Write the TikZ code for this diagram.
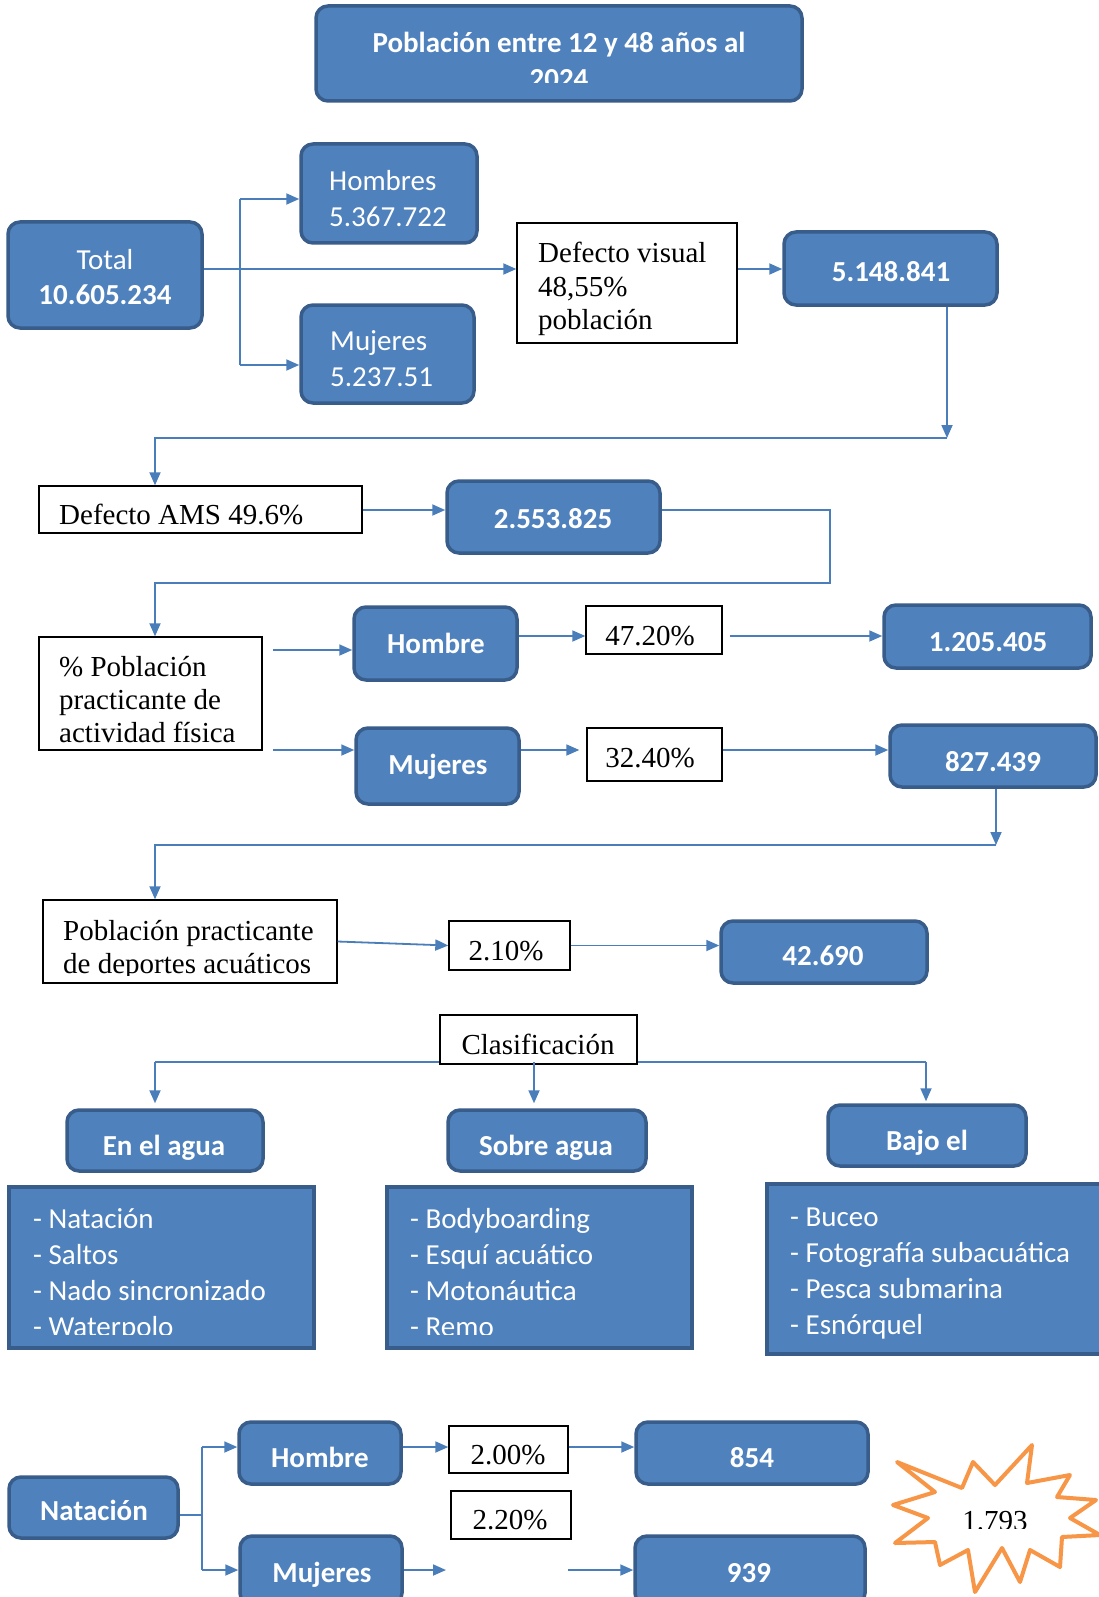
\documentclass[tikz,border=0pt]{standalone}
\usepackage{fontspec}
\setmainfont{Liberation Serif}
\newfontfamily\calib{Carlito}
\usetikzlibrary{arrows.meta}
\definecolor{ofblue}{HTML}{4F81BD}
\definecolor{ofdark}{HTML}{385D8A}
\definecolor{lineblue}{HTML}{4A7EBB}
\definecolor{starorange}{HTML}{F79646}
\newcommand\bx[6]{%
  \pgfmathsetmacro\bxw{#4-#2}\pgfmathsetmacro\bxh{#5-#3}%
  \pgfmathsetmacro\bxx{(#2+#4)/2}\pgfmathsetmacro\bxy{(#3+#5)/2}%
  \node[#1, minimum width=\bxw pt, minimum height=\bxh pt] (#6) at (\bxx,\bxy) {};}
\begin{document}
\begin{tikzpicture}[x=1pt,y=-1pt,
  bluebox/.style={draw=ofdark, fill=ofblue, line width=3.5pt, rounded corners=12pt, inner sep=0pt},
  sqbox/.style={draw=ofdark, fill=ofblue, line width=3.5pt, inner sep=0pt},
  wbox/.style={draw=black, fill=white, line width=1.4pt, inner sep=0pt},
  ttxt/.style={inner sep=0pt, anchor=base, yshift=-1.5pt, font=\fontsize{29}{34}\selectfont},
  ttxtl/.style={ttxt, anchor=base west},
  wtxt/.style={inner sep=0pt, anchor=base, yshift=-1.5pt, text=white, font=\calib\fontsize{29}{35}\selectfont},
  wtxtl/.style={wtxt, anchor=base west},
  btxt/.style={inner sep=0pt, anchor=base, yshift=-1.5pt, text=white, font=\calib\bfseries\fontsize{29}{35}\selectfont},
  link/.style={draw=lineblue, line width=1.8pt},
  conn/.style={link, -{Triangle[length=13pt,width=11pt]}}
]
\useasboundingbox (0,0) rectangle (1099,1597);
\fill[white] (0,0) rectangle (1099,1597);

% ---------- boxes ----------
\bx{bluebox}{316}{6}{802}{101}{title}
\bx{bluebox}{8}{222}{202}{328}{total}
\bx{bluebox}{301}{144}{477}{243}{hombres}
\bx{bluebox}{301}{305}{474}{403}{mujeres}
\bx{wbox}{517}{223}{737}{343}{dv}
\bx{bluebox}{784}{232}{997}{305}{r1}
\bx{wbox}{39}{486}{362}{533}{ams}
\bx{bluebox}{447}{481}{660}{553}{r2}
\bx{wbox}{39}{637}{262}{750}{pp}
\bx{bluebox}{354}{607}{517}{680}{hom}
\bx{bluebox}{356}{728}{519}{804}{muj}
\bx{wbox}{586}{606}{722}{654}{p47}
\bx{bluebox}{884}{605}{1091}{668}{r3}
\bx{wbox}{587}{728}{722}{781}{p32}
\bx{bluebox}{890}{725}{1096}{787}{r4}
\bx{wbox}{43}{900}{337}{983}{pract}
\bx{wbox}{449}{921}{570}{970}{p21}
\bx{bluebox}{721}{921}{927}{983}{r5}
\bx{bluebox}{67}{1110}{263}{1171}{agua}
\bx{bluebox}{448}{1110}{646}{1171}{sobre}
\bx{bluebox}{828}{1105}{1026}{1166}{bajo}
\bx{sqbox}{9}{1187}{314}{1348}{lista}
\bx{sqbox}{387}{1187}{692}{1348}{listb}
\bx{sqbox}{767}{1184}{1110}{1354}{listc}
\bx{bluebox}{9}{1477}{178}{1538}{nat}
\bx{bluebox}{239}{1422}{401}{1484}{hom2}
\bx{bluebox}{240}{1536}{402}{1605}{muj2}
\bx{wbox}{449}{1426}{568}{1473}{p200}
\bx{wbox}{451}{1491}{571}{1539}{p220}
\bx{bluebox}{636}{1422}{868}{1484}{r854}
\bx{bluebox}{635}{1536}{865}{1605}{r939}

% ---------- texts ----------
\begin{scope}
\clip (316,6) rectangle (802,83);
\node[btxt] (tt1) at (559,51) {Población entre 12 y 48 años al};
\node[btxt] (tt2) at (559,87) {2024};
\end{scope}
\node[wtxt] (tot1) at (105,268) {Total};
\node[btxt] (tot2) at (105,303) {10.605.234};
\node[wtxtl] (hb1) at (329,189) {Hombres};
\node[wtxtl] (hb2) at (329,225) {5.367.722};
\node[wtxtl] (mj1) at (330,349) {Mujeres};
\node[wtxtl] (mj2) at (330,385) {5.237.51};
\node[ttxtl] (dv1) at (538,261) {Defecto visual};
\node[ttxtl] (dv2) at (538,295) {48,55\%};
\node[ttxtl] (dv3) at (538,328) {población};
\node[btxt] (r1t) at (891,280) {5.148.841};
\node[ttxtl] (amst) at (59,523) {Defecto AMS 49.6\%};
\node[btxt] (r2t) at (553,527) {2.553.825};
\node[ttxtl] (pp1) at (59,675) {\% Población};
\node[ttxtl] (pp2) at (59,708) {practicante de};
\node[ttxtl] (pp3) at (59,741) {actividad física};
\node[btxt] (homt) at (436,652) {Hombre};
\node[ttxt] (p47t) at (650,644) {47.20\%};
\node[btxt] (r3t) at (988,650) {1.205.405};
\node[btxt] (mujt) at (438,773) {Mujeres};
\node[ttxt] (p32t) at (650,766) {32.40\%};
\node[btxt] (r4t) at (993,770) {827.439};
\begin{scope}
\clip (43,900) rectangle (337,975);
\node[ttxtl] (pr1) at (63,938.5) {Población practicante};
\node[ttxtl] (pr2) at (63,972) {de deportes acuáticos};
\end{scope}
\node[ttxt] (p21t) at (506,958.5) {2.10\%};
\node[btxt] (r5t) at (823,964) {42.690};
\node[btxt] (aguat) at (164,1154) {En el agua};
\node[btxt] (sobret) at (546,1154) {Sobre agua};
\node[btxt] (bajot) at (927,1149) {Bajo el};
\begin{scope}
\clip (9,1187) rectangle (700,1334);
\foreach \t [count=\i] in {- Natación,- Saltos,- Nado sincronizado,- Waterpolo}
  \node[wtxtl] (la\i) at (33,{1227+36*(\i-1)}) {\t};
\foreach \t [count=\i] in {- Bodyboarding,- Esquí acuático,- Motonáutica,- Remo}
  \node[wtxtl] (lb\i) at (410,{1227+36*(\i-1)}) {\t};
\end{scope}
\foreach \t [count=\i] in {- Buceo,- Fotografía subacuática,- Pesca submarina,- Esnórquel}
  \node[wtxtl] (lc\i) at (790,{1225+36*(\i-1)}) {\t};
\node[btxt] (natt) at (94,1519) {Natación};
\node[btxt] (hom2t) at (320,1466) {Hombre};
\node[btxt] (muj2t) at (322,1581) {Mujeres};
\node[ttxt] (p200t) at (508,1463) {2.00\%};
\node[ttxt] (p220t) at (510,1528) {2.20\%};
\node[btxt] (r854t) at (752,1466) {854};
\node[btxt] (r939t) at (749,1581) {939};

% ---------- connectors (top) ----------
\coordinate (tj) at (240,269);
\coordinate (hj) at (240,199);
\coordinate (mjj) at (240,365);
\draw[conn] (total.east |- tj) -- (dv.west |- tj);
\draw[link] (hj) -- (mjj);
\draw[conn] (hj) -- (hombres.west |- hj);
\draw[conn] (mjj) -- (mujeres.west |- mjj);
\draw[conn] (dv.east |- tj) -- (r1.west |- tj);
\coordinate (c1) at (947,438);
\coordinate (c2) at (155,438);
\draw[conn] (r1.south -| c1) -- (c1);
\draw[conn] (c1) -- (c2) -- (ams.north -| c2);
\coordinate (c3) at (830,510);
\coordinate (c4) at (155,583);
\draw[conn] (ams.east |- c3) -- (r2.west |- c3);
\draw[conn] (r2.east |- c3) -- (c3) |- (c4) -- (pp.north -| c4);
\coordinate (f1) at (273,650);
\coordinate (f2) at (273,750);
\draw[conn] (f1) -- (hom.west |- f1);
\draw[conn] (f2) -- (muj.west |- f2);
\coordinate (y1) at (0,636);
\draw[conn] (hom.east |- y1) -- (p47.west |- y1);
\draw[conn, shorten <=7pt] (p47.east |- y1) -- (r3.west |- y1);
\draw[conn, shorten >=7pt] (muj.east |- f2) -- (p32.west |- f2);
\draw[conn] (p32.east |- f2) -- (r4.west |- f2);
\coordinate (c5) at (996,845);
\coordinate (c6) at (155,845);
\draw[conn] (r4.south -| c5) -- (c5);
\draw[conn] (c5) -- (c6) -- (pract.north -| c6);
\draw[conn] (pract.east) -- (p21.west);
\draw[conn] (p21.east) -- (r5.west |- p21.east);

% ---------- clasificación ----------
\coordinate (k1) at (155,1062);
\coordinate (k2) at (534,1062);
\coordinate (k3) at (926,1062);
\draw[link] (k1) -- (k3);
\bx{wbox}{440}{1015}{637}{1064}{clas}
\node[ttxt] (clast) at (538,1053) {Clasificación};
\draw[conn, shorten >=5pt] (k1) -- (agua.north -| k1);
\draw[conn, shorten >=5pt] (k2) -- (sobre.north -| k2);
\draw[conn, shorten >=2pt] (k3) -- (bajo.north -| k3);

% ---------- natación ----------
\coordinate (nj) at (202,1515);
\coordinate (nh) at (202,1447);
\coordinate (nm) at (202,1570);
\draw[link] (nat.east |- nj) -- (nj);
\draw[link] (nh) -- (nm);
\draw[conn] (nh) -- (hom2.west |- nh);
\draw[conn] (nm) -- (muj2.west |- nm);
\draw[conn] (hom2.east |- nh) -- (p200.west |- nh);
\draw[conn] (p200.east |- nh) -- (r854.west |- nh);
\coordinate (fm) at (446,1570);
\coordinate (fm2) at (568,1570);
\draw[conn] (muj2.east |- fm) -- (fm);
\draw[conn] (fm2) -- (r939.west |- fm2);

% ---------- starburst ----------
\draw[starorange, line width=4pt, fill=white, line join=round]
  (897,1462) -- (962,1488) -- (973,1462) -- (995,1485) -- (1032,1445) -- (1027,1483)
  -- (1070,1475) -- (1057,1497) -- (1096,1500) -- (1070,1518) -- (1100,1535) -- (1062,1537)
  -- (1060,1567) -- (1030,1550) -- (1020,1582) -- (1002,1548) -- (975,1592) -- (968,1550)
  -- (940,1565) -- (935,1542) -- (895,1543) -- (928,1518) -- (893,1505) -- (935,1492) -- cycle;
\begin{scope}
\clip (940,1480) rectangle (1060,1528);
\node[ttxt] (burst) at (995,1529) {1.793};
\end{scope}
\end{tikzpicture}
\end{document}
